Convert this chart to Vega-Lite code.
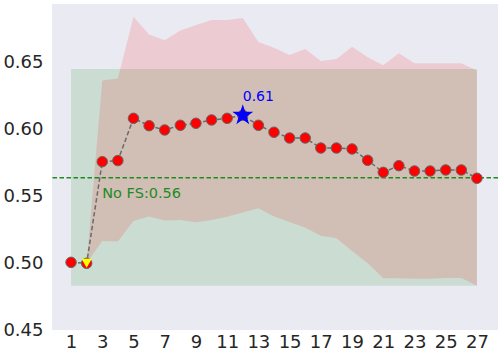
{
  "$schema": "https://vega.github.io/schema/vega-lite/v6.json",
  "width": 446,
  "height": 326,
  "autosize": "none",
  "padding": {"left": 52, "top": 4, "right": 2, "bottom": 24},
  "background": "white",
  "config": {
    "view": {"fill": "#EAEAF2", "stroke": null},
    "font": "DejaVu Sans",
    "axis": {"grid": false, "domain": false, "ticks": false, "labelFont": "DejaVu Sans", "labelFontSize": 18, "labelColor": "#262626", "title": null, "labelOverlap": false}
  },
  "datasets": {
    "series": [
      {"k": 1, "mean": 0.5006, "lo": 0.5006, "hi": 0.5006},
      {"k": 2, "mean": 0.4999, "lo": 0.4999, "hi": 0.4999},
      {"k": 3, "mean": 0.5759, "lo": 0.5166, "hi": 0.6365},
      {"k": 4, "mean": 0.5767, "lo": 0.5161, "hi": 0.638},
      {"k": 5, "mean": 0.6083, "lo": 0.5315, "hi": 0.6843},
      {"k": 6, "mean": 0.6028, "lo": 0.5348, "hi": 0.6709},
      {"k": 7, "mean": 0.5996, "lo": 0.5318, "hi": 0.6667},
      {"k": 8, "mean": 0.6031, "lo": 0.5323, "hi": 0.6739},
      {"k": 9, "mean": 0.6046, "lo": 0.5305, "hi": 0.6781},
      {"k": 10, "mean": 0.6071, "lo": 0.5323, "hi": 0.6819},
      {"k": 11, "mean": 0.6083, "lo": 0.5347, "hi": 0.6819},
      {"k": 12, "mean": 0.6106, "lo": 0.5378, "hi": 0.6834},
      {"k": 13, "mean": 0.6031, "lo": 0.541, "hi": 0.6654},
      {"k": 14, "mean": 0.5979, "lo": 0.5348, "hi": 0.6611},
      {"k": 15, "mean": 0.5936, "lo": 0.5308, "hi": 0.6557},
      {"k": 16, "mean": 0.5936, "lo": 0.5265, "hi": 0.6602},
      {"k": 17, "mean": 0.5861, "lo": 0.5205, "hi": 0.6512},
      {"k": 18, "mean": 0.5861, "lo": 0.5187, "hi": 0.6527},
      {"k": 19, "mean": 0.5854, "lo": 0.5091, "hi": 0.6619},
      {"k": 20, "mean": 0.5769, "lo": 0.4999, "hi": 0.654},
      {"k": 21, "mean": 0.5679, "lo": 0.4887, "hi": 0.648},
      {"k": 22, "mean": 0.5729, "lo": 0.4887, "hi": 0.657},
      {"k": 23, "mean": 0.5689, "lo": 0.4884, "hi": 0.6495},
      {"k": 24, "mean": 0.5689, "lo": 0.4884, "hi": 0.6495},
      {"k": 25, "mean": 0.5697, "lo": 0.4889, "hi": 0.6495},
      {"k": 26, "mean": 0.5697, "lo": 0.4889, "hi": 0.6495},
      {"k": 27, "mean": 0.5635, "lo": 0.4831, "hi": 0.644}
    ],
    "nofs": [{"k1": 1, "k2": 27, "mean": 0.5639, "lo": 0.4831, "hi": 0.6452, "label": "No FS:0.56", "kt": 3}],
    "bestpt": [{"k": 12, "mean": 0.6106, "label": "0.61"}],
    "tript": [{"k": 2, "mean": 0.4999}]
  },
  "layer": [
    {
      "data": {"name": "nofs"},
      "mark": {"type": "rect", "color": "#008000", "opacity": 0.13},
      "encoding": {
        "x": {"field": "k1", "type": "quantitative", "scale": {"domain": [-0.22, 28.35], "nice": false, "zero": false}, "axis": {"values": [1,3,5,7,9,11,13,15,17,19,21,23,25,27], "tickCount": 40, "labelPadding": 3, "labelOverlap": false}},
        "x2": {"field": "k2"},
        "y": {"field": "lo", "type": "quantitative", "scale": {"domain": [0.45, 0.6938], "nice": false, "zero": false}, "axis": {"values": [0.45, 0.5, 0.55, 0.6, 0.65], "tickCount": 10, "format": ".2f", "labelPadding": 9, "labelOverlap": false}},
        "y2": {"field": "hi"}
      }
    },
    {
      "data": {"name": "series"},
      "mark": {"type": "area", "color": "#ff0000", "opacity": 0.13},
      "encoding": {
        "x": {"field": "k", "type": "quantitative"},
        "y": {"field": "lo", "type": "quantitative"},
        "y2": {"field": "hi"}
      }
    },
    {
      "data": {"name": "nofs"},
      "mark": {"type": "rule", "color": "#1f8a1f", "strokeWidth": 1.5, "strokeDash": [4.5, 2.5]},
      "encoding": {
        "y": {"field": "mean", "type": "quantitative"}
      }
    },
    {
      "data": {"name": "nofs"},
      "mark": {"type": "text", "color": "#1f8a1f", "fontSize": 14.5, "align": "left", "baseline": "alphabetic", "dy": 20.6},
      "encoding": {
        "x": {"field": "kt", "type": "quantitative"},
        "y": {"field": "mean", "type": "quantitative"},
        "text": {"field": "label"}
      }
    },
    {
      "data": {"name": "series"},
      "mark": {"type": "line", "color": "#6a6a6a", "strokeWidth": 1.5, "strokeDash": [4.5, 2.5]},
      "encoding": {
        "x": {"field": "k", "type": "quantitative"},
        "y": {"field": "mean", "type": "quantitative"}
      }
    },
    {
      "data": {"name": "series"},
      "mark": {"type": "circle", "color": "#ff0000", "stroke": "#666666", "strokeWidth": 1, "size": 110, "opacity": 1},
      "encoding": {
        "x": {"field": "k", "type": "quantitative"},
        "y": {"field": "mean", "type": "quantitative"}
      }
    },
    {
      "data": {"name": "tript"},
      "mark": {"type": "point", "shape": "triangle-down", "filled": true, "color": "#ffff00", "strokeWidth": 0, "size": 105, "opacity": 1},
      "encoding": {
        "x": {"field": "k", "type": "quantitative"},
        "y": {"field": "mean", "type": "quantitative"}
      }
    },
    {
      "data": {"name": "bestpt"},
      "mark": {"type": "point", "shape": "M0,-1L0.2245,-0.309L0.9511,-0.309L0.3633,0.118L0.5878,0.809L0,0.382L-0.5878,0.809L-0.3633,0.118L-0.9511,-0.309L-0.2245,-0.309Z", "filled": true, "color": "#0000ff", "strokeWidth": 0, "size": 484, "opacity": 1},
      "encoding": {
        "x": {"field": "k", "type": "quantitative"},
        "y": {"field": "mean", "type": "quantitative"}
      }
    },
    {
      "data": {"name": "bestpt"},
      "mark": {"type": "text", "color": "#0000ff", "fontSize": 14, "align": "left", "baseline": "alphabetic", "dy": -14.6},
      "encoding": {
        "x": {"field": "k", "type": "quantitative"},
        "y": {"field": "mean", "type": "quantitative"},
        "text": {"field": "label"}
      }
    }
  ]
}
